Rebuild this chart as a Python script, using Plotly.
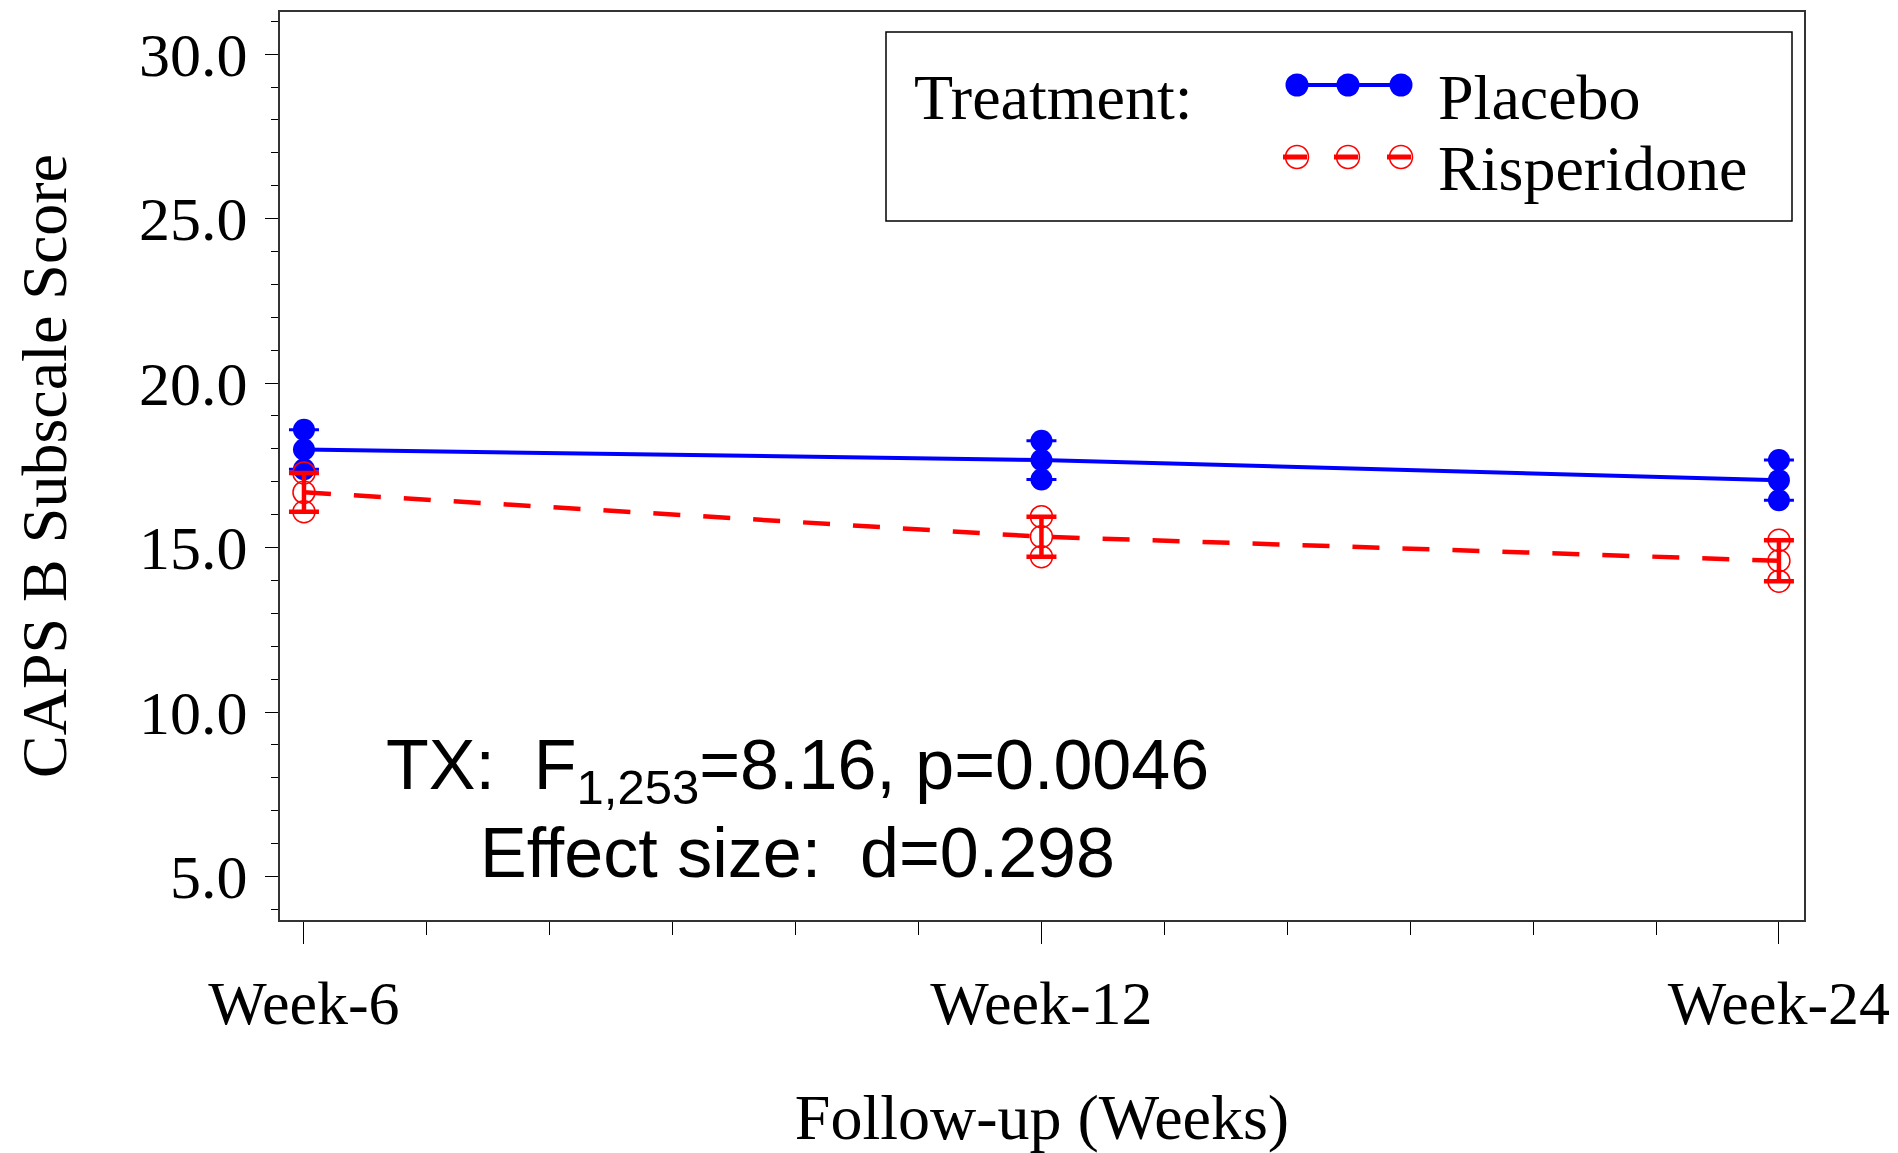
import plotly.graph_objects as go

# ---------------- data ----------------
categories = ["Week-6", "Week-12", "Week-24"]
placebo_mean = [17.98, 17.66, 17.05]
placebo_se = [0.60, 0.59, 0.61]
risperidone_mean = [16.68, 15.33, 14.60]
risperidone_se = [0.59, 0.61, 0.62]
y_tick_vals = [5, 10, 15, 20, 25, 30]

x_pos = list(range(1, len(categories) + 1))

# ---------------- geometry helpers ----------------
W, H = 1898, 1153
L, R, T, B = 280, 1804, 12, 920


def px(x):
    return (x - L) / (R - L)


def py(y):
    return (B - y) / (B - T)


BLUE = "#0000FF"
RED = "#FF0000"
SERIF = "Liberation Serif, Times New Roman, serif"
SANS = "Liberation Sans, Arial, sans-serif"

fig = go.Figure()


def add_group(mean, se, color, filled, dash, lw, ethick):
    upper = [m + s for m, s in zip(mean, se)]
    lower = [m - s for m, s in zip(mean, se)]
    fig.add_trace(go.Scatter(
        x=x_pos, y=mean, mode="lines",
        line=dict(color=color, width=lw, dash=dash),
        showlegend=False, hoverinfo="skip"))
    fig.add_trace(go.Scatter(
        x=x_pos, y=mean, mode="markers",
        marker=dict(symbol="circle" if filled else "circle-open", size=22,
                    color=color, line=dict(color=color, width=0 if filled else 1.5)),
        error_y=dict(type="data", array=se, visible=True, color=color,
                     thickness=ethick, width=15),
        showlegend=False))
    fig.add_trace(go.Scatter(
        x=x_pos + x_pos, y=upper + lower, mode="markers",
        marker=dict(symbol="circle" if filled else "circle-open", size=22,
                    color=color, line=dict(color=color, width=0 if filled else 1.5)),
        showlegend=False, hoverinfo="skip"))


add_group(placebo_mean, placebo_se, BLUE, True, "solid", 4, 3)
add_group(risperidone_mean, risperidone_se, RED, False, "27px,23px", 4.5, 4.5)

# ---------------- custom legend ----------------
shapes = []
shapes.append(dict(type="rect", xref="paper", yref="paper",
                   x0=px(886), x1=px(1792), y0=py(221), y1=py(32),
                   line=dict(color="black", width=1.5), fillcolor="white", layer="above"))
glyph_x = [1297, 1348, 1401]
shapes.append(dict(type="line", xref="paper", yref="paper",
                   x0=px(glyph_x[0]), x1=px(glyph_x[-1]), y0=py(85), y1=py(85),
                   line=dict(color=BLUE, width=4), layer="above"))
for gx in glyph_x:
    shapes.append(dict(type="circle", xref="paper", yref="paper",
                       xsizemode="pixel", ysizemode="pixel",
                       xanchor=px(gx), yanchor=py(85),
                       x0=-11.5, x1=11.5, y0=-11.5, y1=11.5,
                       fillcolor=BLUE, line=dict(width=0), layer="above"))
for gx in glyph_x:
    shapes.append(dict(type="line", xref="paper", yref="paper",
                       x0=px(gx - 14), x1=px(gx + 10), y0=py(157), y1=py(157),
                       line=dict(color=RED, width=5), layer="above"))
    shapes.append(dict(type="circle", xref="paper", yref="paper",
                       xsizemode="pixel", ysizemode="pixel",
                       xanchor=px(gx), yanchor=py(157),
                       x0=-11.5, x1=11.5, y0=-11.5, y1=11.5,
                       fillcolor="rgba(0,0,0,0)", line=dict(color=RED, width=1.5),
                       layer="above"))

annotations = [
    dict(text="Treatment:", x=px(912), y=py(97), xref="paper", yref="paper",
         xanchor="left", yanchor="middle", showarrow=False,
         font=dict(family=SERIF, size=64, color="black")),
    dict(text="Placebo", x=px(1436), y=py(97), xref="paper", yref="paper",
         xanchor="left", yanchor="middle", showarrow=False,
         font=dict(family=SERIF, size=64, color="black")),
    dict(text="Risperidone", x=px(1436), y=py(169), xref="paper", yref="paper",
         xanchor="left", yanchor="middle", showarrow=False,
         font=dict(family=SERIF, size=64, color="black")),
    dict(text="TX:\u00a0\u00a0F<sub>1,253</sub>=8.16, p=0.0046", x=px(797), y=py(770),
         xref="paper", yref="paper", xanchor="center", yanchor="middle", showarrow=False,
         font=dict(family=SANS, size=70, color="black")),
    dict(text="Effect size:\u00a0\u00a0d=0.298", x=px(797), y=py(853),
         xref="paper", yref="paper", xanchor="center", yanchor="middle", showarrow=False,
         font=dict(family=SANS, size=70, color="black")),
]

fig.update_layout(
    width=W, height=H,
    margin=dict(l=L, r=W - R, t=T, b=H - B, autoexpand=False),
    paper_bgcolor="white", plot_bgcolor="white",
    showlegend=False,
    shapes=shapes, annotations=annotations,
    xaxis=dict(
        range=[0.9675, 3.034], tickvals=x_pos, ticktext=categories,
        ticks="outside", ticklen=22, tickwidth=1.2, tickcolor="black",
        minor=dict(dtick=1 / 6, tick0=1, ticks="outside", ticklen=13,
                   tickwidth=1, tickcolor="black", showgrid=False),
        showgrid=False, zeroline=False,
        showline=True, linecolor="#333", linewidth=2, mirror=True,
        tickfont=dict(family=SERIF, size=62, color="black"),
        ticklabelstandoff=6,
        title=dict(text="Follow-up (Weeks)", font=dict(family=SERIF, size=64, color="black"),
                   standoff=60),
        automargin=False,
    ),
    yaxis=dict(
        range=[3.68, 31.28], tickvals=y_tick_vals, tickformat=".1f",
        ticks="outside", ticklen=13, tickwidth=1.2, tickcolor="black",
        minor=dict(dtick=1, tick0=0, ticks="outside", ticklen=7,
                   tickwidth=1, tickcolor="black", showgrid=False),
        showgrid=False, zeroline=False,
        showline=True, linecolor="#333", linewidth=2, mirror=True,
        tickfont=dict(family=SERIF, size=62, color="black"),
        ticklabelstandoff=5,
        title=dict(text="CAPS B Subscale Score", font=dict(family=SERIF, size=64, color="black"),
                   standoff=52),
        automargin=False,
    ),
)

fig.write_html("out.html")
